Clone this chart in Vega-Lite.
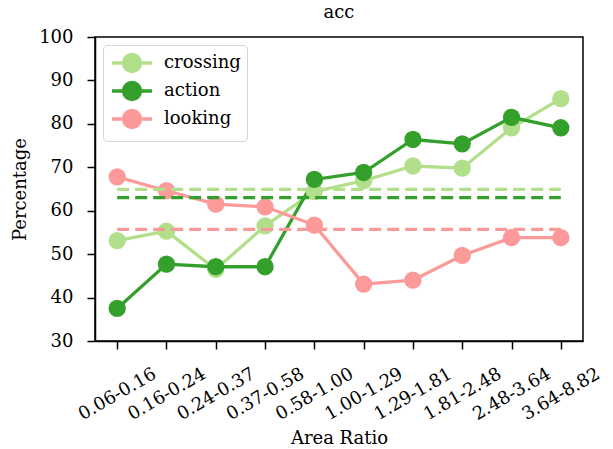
{
  "$schema": "https://vega.github.io/schema/vega-lite/v6.json",
  "width": 488,
  "height": 304,
  "autosize": {"type": "none"},
  "padding": {"left": 95, "top": 37, "right": 30, "bottom": 108},
  "background": "white",
  "title": {"text": "acc", "font": "DejaVu Serif", "fontSize": 18, "fontWeight": "normal", "offset": 6, "color": "black"},
  "config": {
    "font": "DejaVu Serif",
    "view": {"stroke": "black", "strokeWidth": 1.5},
    "axis": {"grid": false, "domainColor": "black", "tickColor": "black", "labelColor": "black", "titleColor": "black", "labelFont": "DejaVu Serif", "titleFont": "DejaVu Serif", "labelFontSize": 18, "titleFontSize": 18, "titleFontWeight": "normal", "tickSize": 8, "domainWidth": 1.5, "tickWidth": 1.5}
  },
  "datasets": {
    "pts": [
      {"ratio": "0.06-0.16", "series": "crossing", "value": 53.1},
      {"ratio": "0.16-0.24", "series": "crossing", "value": 55.3},
      {"ratio": "0.24-0.37", "series": "crossing", "value": 46.5},
      {"ratio": "0.37-0.58", "series": "crossing", "value": 56.5},
      {"ratio": "0.58-1.00", "series": "crossing", "value": 64.4},
      {"ratio": "1.00-1.29", "series": "crossing", "value": 66.9},
      {"ratio": "1.29-1.81", "series": "crossing", "value": 70.3},
      {"ratio": "1.81-2.48", "series": "crossing", "value": 69.8},
      {"ratio": "2.48-3.64", "series": "crossing", "value": 79.1},
      {"ratio": "3.64-8.82", "series": "crossing", "value": 85.8},
      {"ratio": "0.06-0.16", "series": "action", "value": 37.5},
      {"ratio": "0.16-0.24", "series": "action", "value": 47.7},
      {"ratio": "0.24-0.37", "series": "action", "value": 47.1},
      {"ratio": "0.37-0.58", "series": "action", "value": 47.1},
      {"ratio": "0.58-1.00", "series": "action", "value": 67.2},
      {"ratio": "1.00-1.29", "series": "action", "value": 68.8},
      {"ratio": "1.29-1.81", "series": "action", "value": 76.4},
      {"ratio": "1.81-2.48", "series": "action", "value": 75.4},
      {"ratio": "2.48-3.64", "series": "action", "value": 81.5},
      {"ratio": "3.64-8.82", "series": "action", "value": 79.1},
      {"ratio": "0.06-0.16", "series": "looking", "value": 67.8},
      {"ratio": "0.16-0.24", "series": "looking", "value": 64.6},
      {"ratio": "0.24-0.37", "series": "looking", "value": 61.5},
      {"ratio": "0.37-0.58", "series": "looking", "value": 60.9},
      {"ratio": "0.58-1.00", "series": "looking", "value": 56.7},
      {"ratio": "1.00-1.29", "series": "looking", "value": 43.1},
      {"ratio": "1.29-1.81", "series": "looking", "value": 44.0},
      {"ratio": "1.81-2.48", "series": "looking", "value": 49.7},
      {"ratio": "2.48-3.64", "series": "looking", "value": 53.8},
      {"ratio": "3.64-8.82", "series": "looking", "value": 53.8}
    ],
    "means": [
      {"series": "crossing", "value": 64.9},
      {"series": "action", "value": 63.0},
      {"series": "looking", "value": 55.7}
    ]
  },
  "layer": [
    {
      "data": {"name": "pts"},
      "mark": {"type": "line", "strokeWidth": 3.3},
      "encoding": {
        "x": {"field": "ratio", "type": "ordinal", "scale": {"type": "point", "padding": 0.45}, "sort": null, "axis": {"title": "Area Ratio", "labelAngle": -30, "labelAlign": "center", "labelBaseline": "middle", "labelFontSize": 18, "labelPadding": 45, "titlePadding": 6}},
        "y": {"field": "value", "type": "quantitative", "scale": {"domain": [30, 100], "nice": false, "zero": false}, "axis": {"title": "Percentage", "values": [30, 40, 50, 60, 70, 80, 90, 100], "labelPadding": 14, "titlePadding": 9}},
        "color": {"field": "series", "type": "nominal", "scale": {"domain": ["crossing", "action", "looking"], "range": ["#b2df8a", "#33a02c", "#fb9a99"]}, "legend": {
          "title": null, "orient": "none", "legendX": 8, "legendY": 8,
          "symbolType": "M-0.9,0H3.1M1.95,0A0.85,0.85,0,1,1,0.25,0A0.85,0.85,0,1,1,1.95,0Z",
          "symbolSize": 400, "symbolStrokeWidth": 3.3, "labelFontSize": 18, "labelFont": "DejaVu Serif", "labelColor": "black",
          "fillColor": "white", "strokeColor": "#d4d4d4", "cornerRadius": 4, "padding": 6, "rowPadding": -5, "labelOffset": 31,
          "encode": {"symbols": {"update": {"fill": {"signal": "scale('color', datum.value)"}, "stroke": {"signal": "scale('color', datum.value)"}, "opacity": {"value": 1}, "fillOpacity": {"value": 1}, "strokeOpacity": {"value": 1}}}}
        }}
      }
    },
    {
      "data": {"name": "pts"},
      "mark": {"type": "point", "filled": true, "opacity": 1, "size": 300},
      "encoding": {
        "x": {"field": "ratio", "type": "ordinal", "sort": null},
        "y": {"field": "value", "type": "quantitative"},
        "color": {"field": "series", "type": "nominal"}
      }
    },
    {
      "data": {"name": "means"},
      "mark": {"type": "rule", "strokeWidth": 3.3, "strokeDash": [12, 6]},
      "encoding": {
        "x": {"datum": "0.06-0.16"},
        "x2": {"datum": "3.64-8.82"},
        "y": {"field": "value", "type": "quantitative"},
        "color": {"field": "series", "type": "nominal"}
      }
    }
  ]
}
